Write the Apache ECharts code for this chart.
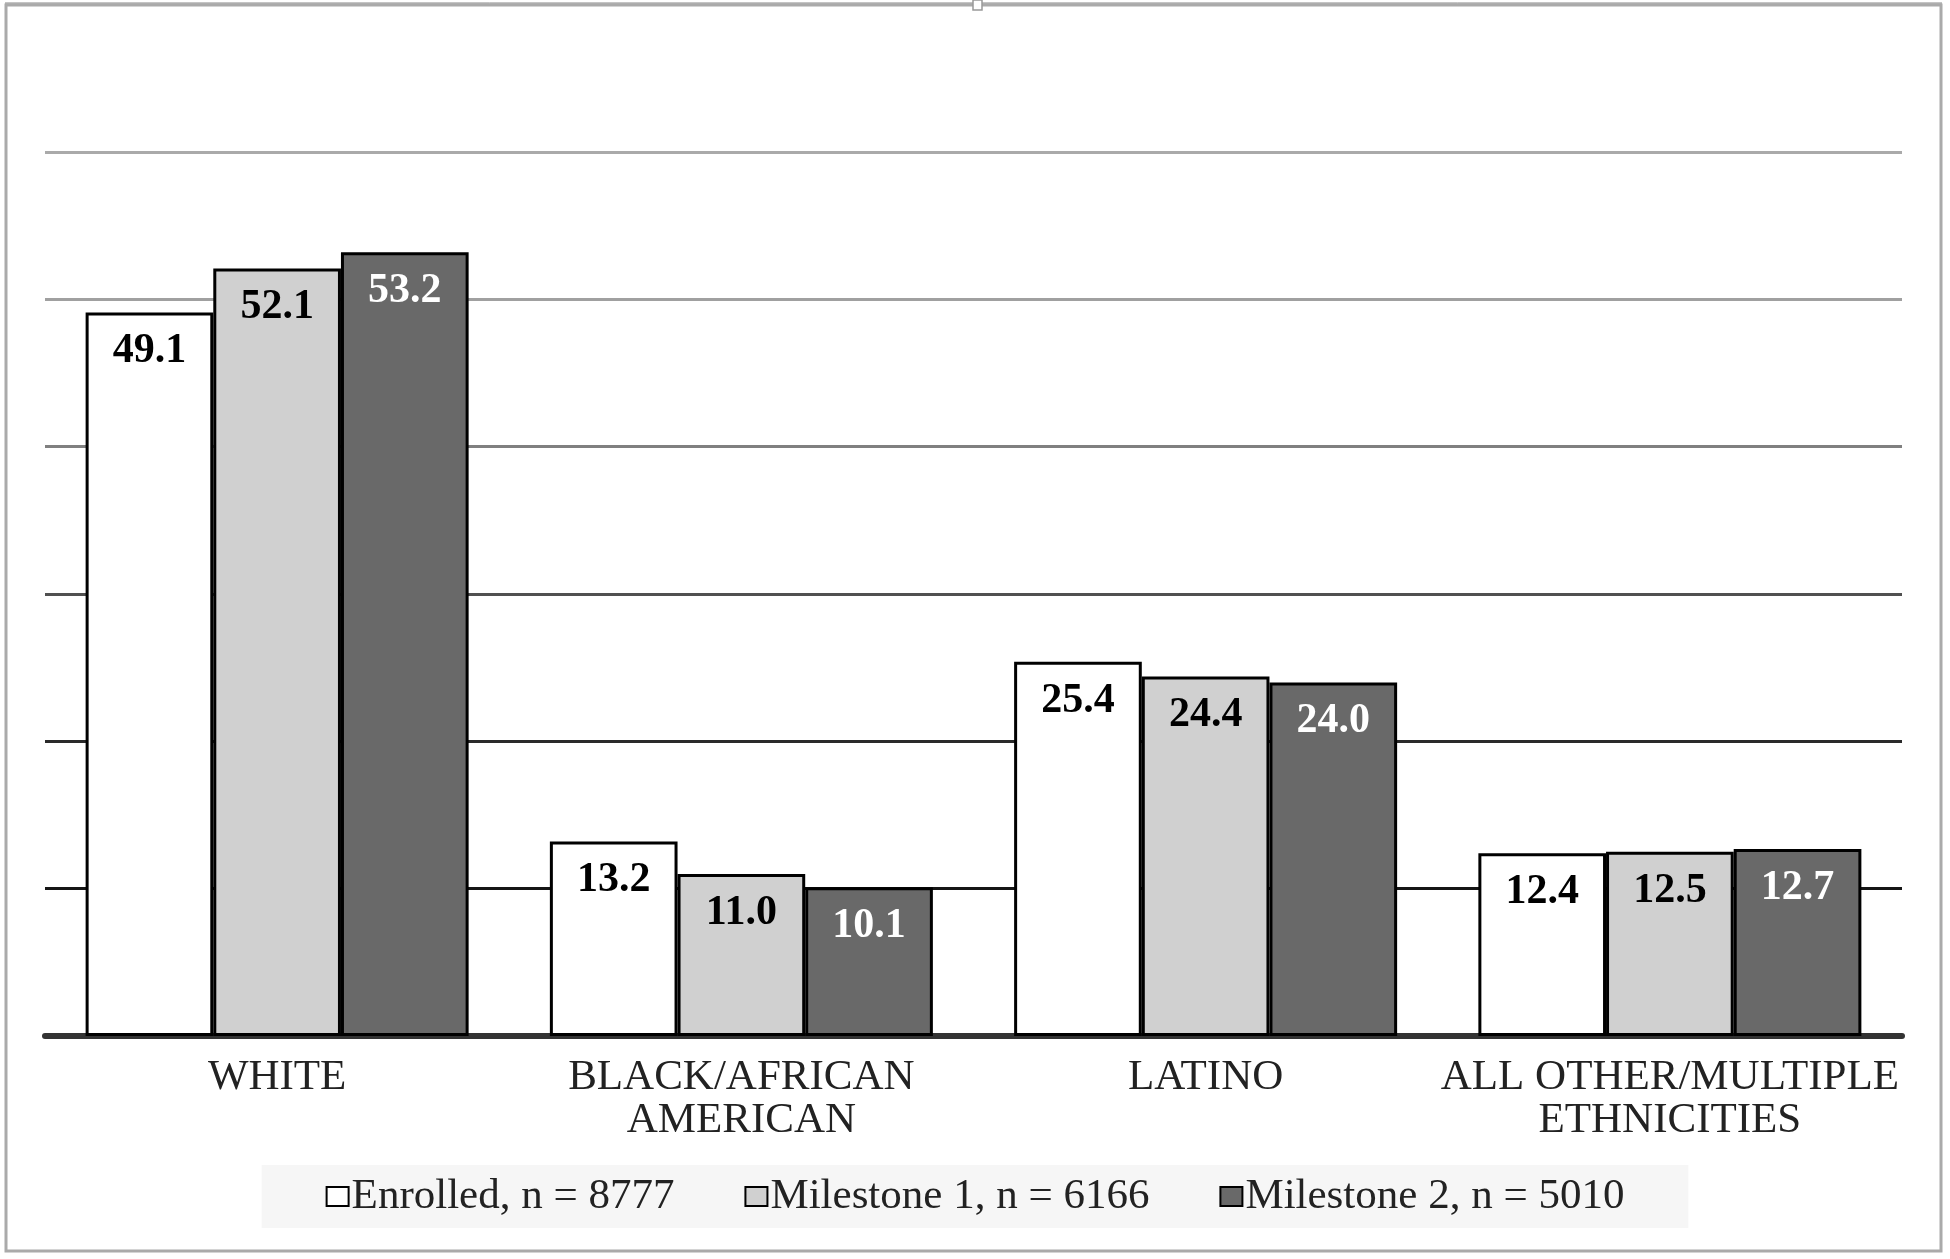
<!DOCTYPE html>
<html>
<head>
<meta charset="utf-8">
<style>
html,body{margin:0;padding:0;background:#fff;}
#chart{width:1950px;height:1259px;}
</style>
<script src="https://cdn.jsdelivr.net/npm/echarts@6/dist/echarts.min.js"></script>
</head>
<body>
<div id="chart"></div>
<script>
const categories = ['WHITE', 'BLACK/AFRICAN\nAMERICAN', 'LATINO', 'ALL OTHER/MULTIPLE\nETHNICITIES'];
const seriesNames = ['Enrolled, n = 8777', 'Milestone 1, n = 6166', 'Milestone 2, n = 5010'];
const enrolled = [49.1, 13.2, 25.4, 12.4];
const milestone1 = [52.1, 11.0, 24.4, 12.5];
const milestone2 = [53.2, 10.1, 24.0, 12.7];

const FONT = '"Liberation Serif", "Times New Roman", serif';
const fills = ['#ffffff', '#d0d0d0', '#696969'];
const labelColors = ['#000000', '#000000', '#ffffff'];
const values = [enrolled, milestone1, milestone2];

const chart = echarts.init(document.getElementById('chart'), null, {renderer: 'canvas'});

const series = seriesNames.map((name, i) => ({
  name: name,
  type: 'bar',
  data: values[i],
  barGap: '0%',
  barCategoryGap: '17.5%',
  itemStyle: {color: fills[i], borderColor: '#000', borderWidth: 3},
  label: {
    show: true,
    position: 'insideTop',
    distance: 18,
    fontFamily: FONT,
    fontWeight: 'bold',
    fontSize: 42,
    color: labelColors[i],
    formatter: p => p.value.toFixed(1)
  },
  emphasis: {disabled: true},
  animation: false
}));

chart.setOption({
  animation: false,
  backgroundColor: '#ffffff',
  grid: {left: 45, right: 48, top: 152, bottom: 223, containLabel: false},
  xAxis: {
    type: 'category',
    data: categories,
    axisTick: {show: false},
    axisLine: {lineStyle: {color: '#333333', width: 6}},
    axisLabel: {
      fontFamily: FONT,
      fontSize: 43,
      lineHeight: 43,
      color: '#222222',
      margin: 20,
      interval: 0
    }
  },
  yAxis: {
    type: 'value',
    min: 0,
    max: 60,
    interval: 10,
    axisLabel: {show: false},
    axisTick: {show: false},
    axisLine: {show: false},
    splitLine: {
      show: true,
      lineStyle: {
        width: 3,
        color: ['#333333', '#151515', '#2a2a2a', '#505050', '#808080', '#a0a0a0', '#aaaaaa']
      }
    }
  },
  legend: {
    data: seriesNames,
    left: 'center',
    top: 1165,
    backgroundColor: '#f6f6f6',
    padding: [10, 64],
    itemGap: 70,
    itemWidth: 22,
    itemHeight: 19,
    icon: 'rect',
    itemStyle: {borderWidth: 2, borderColor: '#000'},
    textStyle: {fontFamily: FONT, fontSize: 43, color: '#222222', padding: [0, 0, 0, -2]},
    selectedMode: false
  },
  graphic: [
    {
      type: 'rect',
      shape: {x: 6, y: 5, width: 1935, height: 1246},
      style: {fill: 'none', stroke: '#aaaaaa', lineWidth: 3},
      silent: true
    },
    {
      type: 'line',
      shape: {x1: 5, y1: 3, x2: 1942, y2: 3},
      style: {stroke: '#888888', lineWidth: 1},
      silent: true
    },
    {
      type: 'rect',
      shape: {x: 973, y: 0, width: 9, height: 10},
      style: {fill: '#ffffff', stroke: '#999999', lineWidth: 1.5},
      silent: true
    }
  ],
  series: series
});
</script>
</body>
</html>
